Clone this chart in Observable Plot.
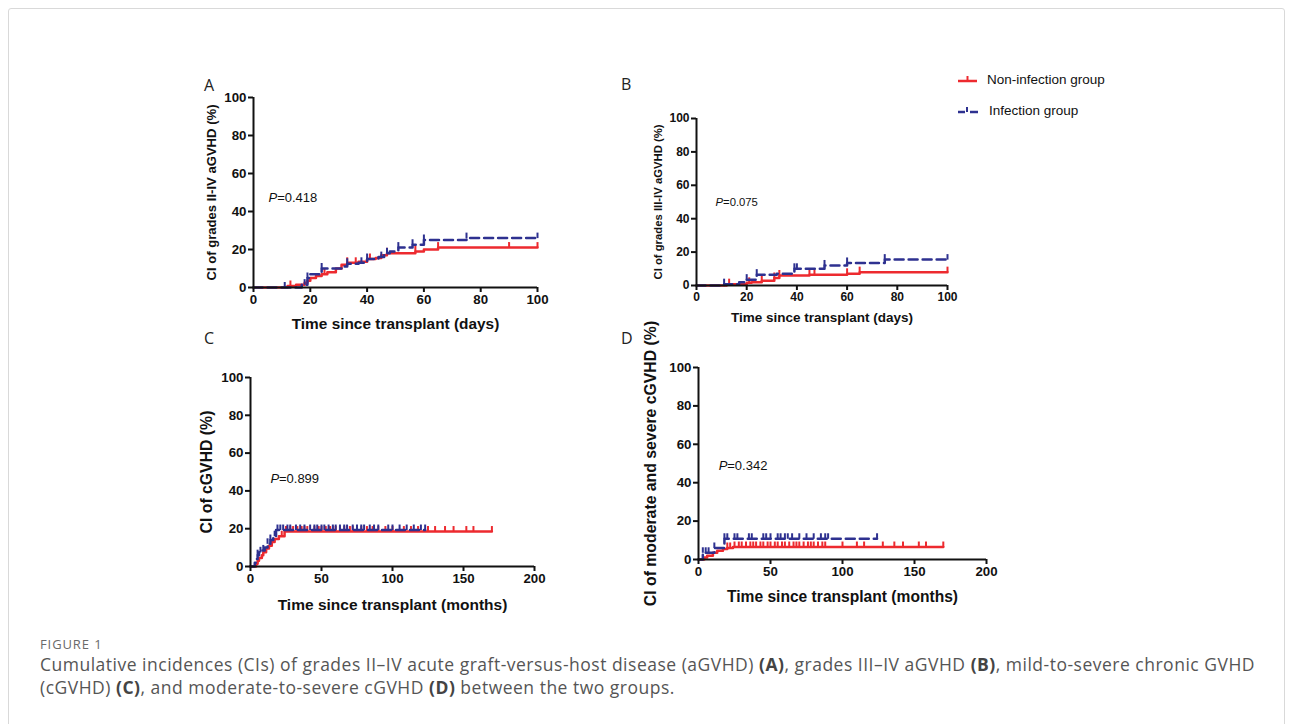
<!DOCTYPE html>
<html><head><meta charset="utf-8">
<script src="https://cdn.jsdelivr.net/npm/d3@7"></script>
<script src="https://cdn.jsdelivr.net/npm/@observablehq/plot@0.6"></script>
<style>
html,body{margin:0;padding:0;background:#fff}
body{width:1292px;height:724px;overflow:hidden;position:relative;font-family:"Liberation Sans",Arial,sans-serif}
#frame{position:absolute;left:8px;top:8px;width:1275px;height:760px;border:1px solid #d9d9d9;border-radius:3px}
.panel{position:absolute}
.letter{position:absolute;font-family:"Open Sans",sans-serif;font-size:16px;color:#222}
#legend{position:absolute;left:955px;top:64px;font-family:"Liberation Sans",Arial,sans-serif;font-size:13.5px;color:#111}
#legend div{height:31px;display:flex;align-items:center}
#legend svg{margin-right:8px}
#figlabel{position:absolute;left:40px;top:635px;font-family:"Open Sans",sans-serif;font-size:13px;color:#6a6a6a;letter-spacing:0.9px}
#caption{position:absolute;left:40px;top:653px;font-family:"Open Sans",sans-serif;font-size:17.5px;line-height:23px;color:#555;white-space:nowrap;letter-spacing:0.5px}
#caption b{color:#444}
</style>
</head><body>
<div id="frame"></div>
<div id="charts"></div>
<div class="letter" style="left:204px;top:74px">A</div>
<div class="letter" style="left:621px;top:73px">B</div>
<div class="letter" style="left:204px;top:327px">C</div>
<div class="letter" style="left:621px;top:327px">D</div>
<div id="legend">
  <div><svg width="24" height="10"><line x1="3" y1="6" x2="22" y2="6" stroke="#ed2a2f" stroke-width="2.5"/><line x1="12.5" y1="6" x2="12.5" y2="1" stroke="#ed2a2f" stroke-width="2"/></svg><span>Non-infection group</span></div>
  <div><svg width="26" height="10"><line x1="3" y1="6" x2="10" y2="6" stroke="#2e3190" stroke-width="2.5"/><line x1="15" y1="6" x2="23" y2="6" stroke="#2e3190" stroke-width="2.5"/><line x1="12" y1="6" x2="12" y2="1" stroke="#2e3190" stroke-width="2"/></svg><span>Infection group</span></div>
</div>
<div id="figlabel">FIGURE 1</div>
<div id="caption">Cumulative incidences (CIs) of grades II–IV acute graft-versus-host disease (aGVHD) <b>(A)</b>, grades III–IV aGVHD <b>(B)</b>, mild-to-severe chronic GVHD<br>(cGVHD) <b>(C)</b>, and moderate-to-severe cGVHD <b>(D)</b> between the two groups.</div>
<script>
// ---------- data ----------
const panelLetters = ["A", "B", "C", "D"];
const yTitles = ["CI of grades II-IV aGVHD (%)", "CI of grades III-IV aGVHD (%)", "CI of cGVHD (%)", "CI of moderate and severe cGVHD (%)"];
const xTitles = ["Time since transplant (days)", "Time since transplant (days)", "Time since transplant (months)", "Time since transplant (months)"];
const pValues = ["=0.418", "=0.075", "=0.899", "=0.342"];
const xTicksDays = [0, 20, 40, 60, 80, 100];
const xTicksMonths = [0, 50, 100, 150, 200];
const yTicks = [0, 20, 40, 60, 80, 100];

// [time, CI %] step points
const aNonInf = [[0,0],[12,0.8],[15,1.5],[18,2.5],[19,3.5],[20,5],[22,6],[24,7],[26,8],[29,10],[31,12],[33,13],[37,13.5],[40,15],[43,15.5],[45,17],[47,18],[57,19],[60,20],[65,21],[100,21]];
const aInf = [[0,0],[17,1.5],[19,5],[20,7],[24,10],[31,11],[33,12.5],[37,13],[40,15],[44,16],[46,18],[48,19],[51,21],[56,22.5],[60,25],[75,26],[100,26]];
const aNonInfCens = [13, 25, 33, 36, 41, 47, 57, 65, 90, 100];
const aInfCens = [11, 18, 19, 24, 33, 38, 40, 45, 47, 51, 56, 60, 75, 100];

const bNonInf = [[0,0],[12,0.8],[20,1.6],[22,2],[26,2.8],[31,4.5],[33,6],[45,6.5],[60,7],[65,8],[100,8]];
const bInf = [[0,0],[11,0.8],[17,2],[20,3.5],[24,6.5],[32,7],[38,8],[39,10],[51,12],[60,13.5],[75,15.5],[100,15.5]];
const bNonInfCens = [13, 21, 26, 31, 33, 45, 47, 60, 65, 100];
const bInfCens = [11, 20, 24, 39, 40, 51, 60, 75, 100];

const cNonInf = [[0,0],[3,0],[4,1.5],[5,3],[6,4.5],[8,6],[9,7.5],[11,9.5],[13,11],[15,13],[17,14.5],[20,16],[24,18.5],[170,18.5]];
const cInf = [[0,0],[2,0],[3,2],[4,4],[5,6],[6,7.5],[8,8.5],[10,10],[12,12],[14,14],[16,16],[18,19.3],[123,19.3]];
const cNonInfCens = [22,25,28,30,33,36,38,40,45,48,50,53,56,58,60,63,66,70,72,75,78,82,86,90,95,100,108,113,118,125,130,137,143,152,157,170];
const cInfCens = [5,7,9,12,14,17,19,21,23,26,28,32,35,38,42,45,47,50,52,55,58,60,63,66,68,72,75,78,80,84,87,90,97,100,105,110,115,120,123];

const dNonInf = [[0,0],[3,0],[4,1],[6,2],[10,3.5],[13,4.5],[17,5.5],[20,6],[24,6.5],[170,6.5]];
const dInf = [[0,0],[3,3.5],[11,6],[18,10.8],[124,10.8]];
const dNonInfCens = [20,22,25,28,30,33,36,38,40,43,45,48,50,53,55,58,60,63,66,68,70,73,76,78,80,83,86,88,100,110,115,128,136,142,153,158,170];
const dInfCens = [3,5,7,11,18,20,25,27,35,37,45,47,50,55,57,60,62,65,70,75,80,85,88,90,124];

const seriesNames = ["Non-infection group", "Infection group"];

// ---------- layout / style ----------
const RED = "#ed2a2f", BLUE = "#2e3190";
const layout = [
  {left:253, top:97, w:284, h:190, xmax:100, xticks:xTicksDays, tickFont:13.3, yTitleFont:13.1, xTitleFont:15.4, yTitleDx:-42, xTitleDy:37, px:5.3, py:47, pFont:13},
  {left:696, top:118, w:251, h:167, xmax:100, xticks:xTicksDays, tickFont:12, yTitleFont:11.3, xTitleFont:13.5, yTitleDx:-38, xTitleDy:32, px:7.6, py:50, pFont:11.3},
  {left:250, top:377, w:284, h:189, xmax:200, xticks:xTicksMonths, tickFont:13.3, yTitleFont:15.8, xTitleFont:15.5, yTitleDx:-44, xTitleDy:39, px:14, py:46.5, pFont:13},
  {left:698, top:367, w:288, h:192, xmax:200, xticks:xTicksMonths, tickFont:13.3, yTitleFont:15.8, xTitleFont:15.6, yTitleDx:-48, xTitleDy:37, px:14, py:49, pFont:13}
];
const curves = [[aNonInf, aInf, aNonInfCens, aInfCens],[bNonInf, bInf, bNonInfCens, bInfCens],[cNonInf, cInf, cNonInfCens, cInfCens],[dNonInf, dInf, dNonInfCens, dInfCens]];

function valueAt(series, t) {
  let v = 0;
  for (const [x, y] of series) if (x <= t) v = y;
  return v;
}
const censorSymbol = {draw(ctx, size) { ctx.moveTo(0, 0); ctx.lineTo(0, -5.5); }};

const holder = document.getElementById("charts");
panelLetters.forEach((letter, i) => {
  const L = layout[i];
  const [non, inf, nonC, infC] = curves[i];
  const mL = 90, mT = 12, mR = 25, mB = 55;
  const nonRows = non.map(([t, v]) => ({t, v, g: seriesNames[0]}));
  const infRows = inf.map(([t, v]) => ({t, v, g: seriesNames[1]}));
  const nonCRows = nonC.map(t => ({t, v: valueAt(non, t)}));
  const infCRows = infC.map(t => ({t, v: valueAt(inf, t)}));
  const chart = Plot.plot({
    width: mL + L.w + mR, height: mT + L.h + mB,
    marginLeft: mL, marginTop: mT, marginRight: mR, marginBottom: mB,
    style: {fontFamily: "'Liberation Sans', Arial, sans-serif", color: "#111", background: "transparent", overflow: "visible"},
    x: {domain: [0, L.xmax]},
    y: {domain: [0, 100]},
    marks: [
      Plot.line(nonRows, {x: "t", y: "v", curve: "step-after", stroke: RED, strokeWidth: 2.5}),
      Plot.dot(nonCRows, {x: "t", y: "v", symbol: censorSymbol, r: 3, fill: "none", stroke: RED, strokeWidth: 2}),
      Plot.line(infRows, {x: "t", y: "v", curve: "step-after", stroke: BLUE, strokeWidth: 2.5, strokeDasharray: "9,5"}),
      Plot.dot(infCRows, {x: "t", y: "v", symbol: censorSymbol, r: 3, fill: "none", stroke: BLUE, strokeWidth: 2}),
      Plot.ruleX([0], {stroke: "#111", strokeWidth: 2}),
      Plot.ruleY([0], {stroke: "#111", strokeWidth: 2}),
      Plot.axisX({ticks: L.xticks, tickSize: 5, tickPadding: 2, strokeWidth: 2, fontSize: L.tickFont, fontWeight: "bold", label: null}),
      Plot.axisY({ticks: yTicks, tickSize: 5, tickPadding: 2, strokeWidth: 2, fontSize: L.tickFont, fontWeight: "bold", label: null}),
      Plot.text([xTitles[i]], {frameAnchor: "bottom", dy: L.xTitleDy, lineAnchor: "middle", fontSize: L.xTitleFont, fontWeight: "bold"}),
      Plot.text([yTitles[i]], {frameAnchor: "left", dx: L.yTitleDx, rotate: -90, textAnchor: "middle", lineAnchor: "middle", fontSize: L.yTitleFont, fontWeight: "bold"}),
      Plot.text(["P"], {x: L.px, y: L.py, textAnchor: "start", fontStyle: "italic", fontSize: L.pFont}),
      Plot.text([pValues[i]], {x: L.px, y: L.py, dx: L.pFont * 0.66, textAnchor: "start", fontSize: L.pFont})
    ]
  });
  chart.classList.add("panel");
  chart.style.position = "absolute";
  chart.style.left = (L.left - mL) + "px";
  chart.style.top = (L.top - mT) + "px";
  holder.appendChild(chart);
});
</script>
</body></html>
